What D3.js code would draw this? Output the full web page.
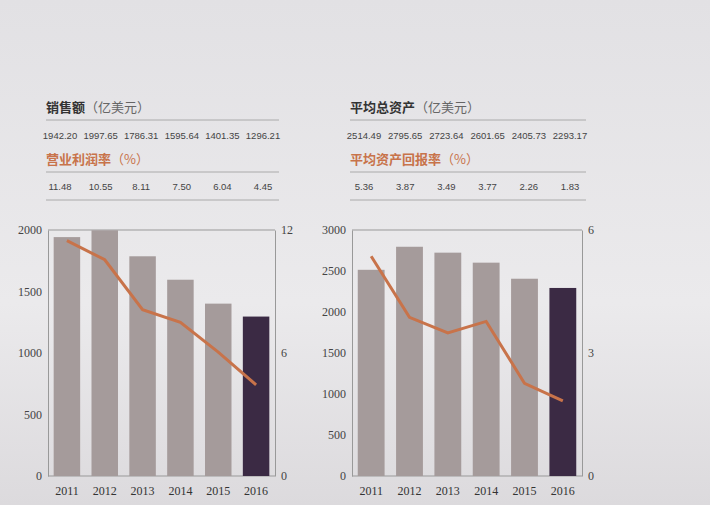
<!DOCTYPE html><html><head><meta charset="utf-8"><script src="https://cdn.jsdelivr.net/npm/d3@7"></script>
<style>body{margin:0;background:#e6e5e8}</style></head><body><svg id="c" width="710" height="505"></svg>
<script>
const years=["2011","2012","2013","2014","2015","2016"];
const sales=[1942.20,1997.65,1786.31,1595.64,1401.35,1296.21];
const margin=[11.48,10.55,8.11,7.50,6.04,4.45];
const assets=[2514.49,2795.65,2723.64,2601.65,2405.73,2293.17];
const roa=[5.36,3.87,3.49,3.77,2.26,1.83];
const leftTicksA=[0,500,1000,1500,2000], rightTicksA=[0,6,12];
const leftTicksB=[0,500,1000,1500,2000,2500,3000], rightTicksB=[0,3,6];
const svg=d3.select("#c");
const g0=svg.append("defs").append("linearGradient").attr("id","bg").attr("x1",0).attr("y1",0).attr("x2",0).attr("y2",1);
g0.append("stop").attr("offset","0").attr("stop-color","#e2e1e4");
g0.append("stop").attr("offset","0.6").attr("stop-color","#ebeaec");
g0.append("stop").attr("offset","1").attr("stop-color","#dcdadd");
svg.append("rect").attr("width",710).attr("height",505).attr("fill","url(#bg)");
function panel(x0,x1,t1,vals1,t2,vals2,bars,line,lmax,lt,rmax,rt){
  const top=230,bot=476;
  const x=d3.scaleBand().domain(years).range([x0,x1]).paddingInner(0.3).paddingOuter(0.15);
  const yl=d3.scaleLinear().domain([0,lmax]).range([bot,top]);
  const yr=d3.scaleLinear().domain([0,rmax]).range([bot,top]);
  const g=svg.append("g").style("font-family","Liberation Serif");
  g.append("text").attr("x",x0-2).attr("y",112).text(t1[0]).attr("font-family","Noto Sans CJK SC").attr("font-weight","bold").attr("font-size",13).attr("fill","#333")
   .append("tspan").text(t1[1]).attr("font-weight","normal").attr("fill","#666");
  g.append("line").attr("x1",x0-2).attr("x2",x1+4).attr("y1",120).attr("y2",120).attr("stroke","#aaa");
  const xv=d3.scalePoint().domain(years).range([x0+12,x1-12]);
  vals1.forEach((v,i)=>g.append("text").attr("x",xv(years[i])).attr("y",139).attr("text-anchor","middle").attr("font-size",9.5).attr("font-family","Liberation Sans Narrow, Liberation Sans").attr("fill","#444").text(v.toFixed(2)));
  g.append("text").attr("x",x0-2).attr("y",164).text(t2[0]).attr("font-family","Noto Sans CJK SC").attr("font-weight","bold").attr("font-size",13).attr("fill","#c8734a")
   .append("tspan").text(t2[1]).attr("font-weight","normal");
  g.append("line").attr("x1",x0-2).attr("x2",x1+4).attr("y1",172).attr("y2",172).attr("stroke","#aaa");
  vals2.forEach((v,i)=>g.append("text").attr("x",xv(years[i])).attr("y",190).attr("text-anchor","middle").attr("font-size",9.5).attr("font-family","Liberation Sans").attr("fill","#444").text(v.toFixed(2)));
  g.append("line").attr("x1",x0-2).attr("x2",x1+4).attr("y1",200).attr("y2",200).attr("stroke","#aaa");
  g.append("line").attr("x1",x0).attr("x2",x1).attr("y1",top).attr("y2",top).attr("stroke","#999");
  g.append("line").attr("x1",x0).attr("x2",x1).attr("y1",bot).attr("y2",bot).attr("stroke","#999");
  g.selectAll(".b").data(bars).join("rect").attr("x",(d,i)=>x(years[i])).attr("width",x.bandwidth())
   .attr("y",d=>yl(d)).attr("height",d=>bot-yl(d)).attr("fill",(d,i)=>i==5?"#3b2a44":"#a59b9b");
  g.append("path").datum(line).attr("d",d3.line().x((d,i)=>x(years[i])+x.bandwidth()/2).y(d=>yr(d)))
   .attr("fill","none").attr("stroke","#c8734a").attr("stroke-width",3);
  const f=d3.format("d");
  g.append("g").attr("transform",`translate(${x0},0)`).call(d3.axisLeft(yl).tickValues(lt).tickFormat(f).tickSize(0).tickPadding(6))
   .call(a=>{a.select(".domain").attr("stroke","#999");a.selectAll("text").attr("font-size",12).attr("fill","#444").attr("font-family","Liberation Serif");});
  g.append("g").attr("transform",`translate(${x1},0)`).call(d3.axisRight(yr).tickValues(rt).tickFormat(f).tickSize(0).tickPadding(6))
   .call(a=>{a.select(".domain").attr("stroke","#999");a.selectAll("text").attr("font-size",12).attr("fill","#444").attr("font-family","Liberation Serif");});
  g.append("g").attr("transform",`translate(0,${bot})`).call(d3.axisBottom(x).tickSize(0).tickPadding(10))
   .call(a=>{a.select(".domain").remove();a.selectAll("text").attr("font-size",12).attr("fill","#333").attr("font-family","Liberation Serif");});
}
panel(48,275,["销售额","（亿美元）"],sales,["营业利润率","（%）"],margin,sales,margin,2000,leftTicksA,12,rightTicksA);
panel(352,582,["平均总资产","（亿美元）"],assets,["平均资产回报率","（%）"],roa,assets,roa,3000,leftTicksB,6,rightTicksB);
</script></body></html>
